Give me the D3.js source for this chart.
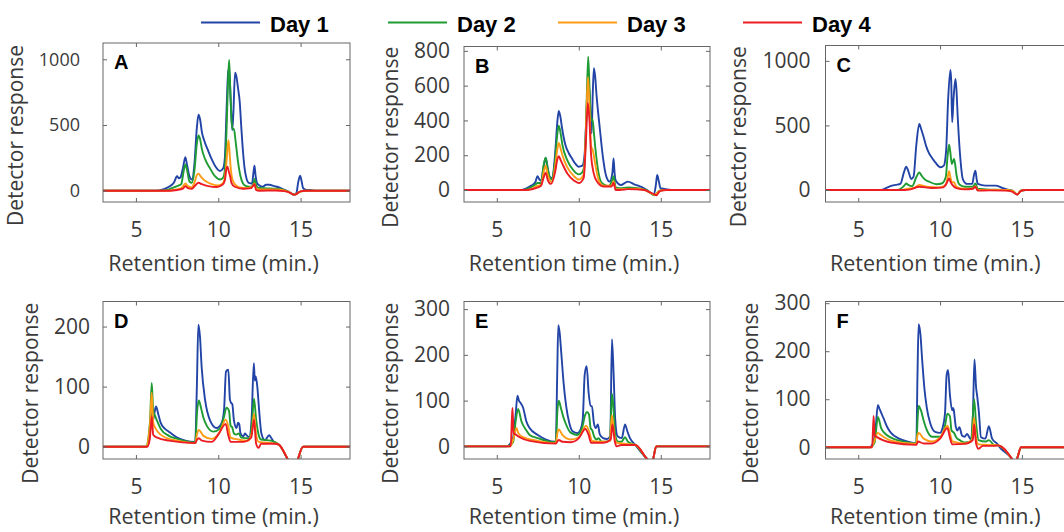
<!DOCTYPE html>
<html>
<head>
<meta charset="utf-8">
<script src="https://cdn.jsdelivr.net/npm/d3@7"></script>
<style>
	body { margin: 0; background: #fff; }
	svg text { font-family: 'Open Sans', sans-serif; fill: #3a3a3a; }
</style>
</head>
<body>
<svg id="fig" width="1064" height="532"></svg>
<script>

var seriesNames = ['Day 1', 'Day 2', 'Day 3', 'Day 4']
var seriesColors = ['#2244a6', '#1e9b32', '#ff9c16', '#ec1c24']

var xDomain = [3, 18]
var xTicks = [5, 10, 15]

// panel A
var aDay1 = [[3,0],[6.2,0],[6.6,8],[7.0,30],[7.3,60],[7.5,110],[7.6,95],[7.7,100],[7.85,170],[8.0,255],[8.1,200],[8.25,110],[8.4,85],[8.55,200],[8.7,480],[8.8,578],[8.9,540],[9.0,450],[9.15,380],[9.4,300],[9.6,240],[9.85,180],[10.1,150],[10.3,170],[10.4,250],[10.5,600],[10.6,900],[10.66,930],[10.75,700],[10.85,460],[10.92,600],[11.02,898],[11.1,870],[11.2,780],[11.3,680],[11.4,480],[11.5,300],[11.6,170],[11.7,100],[11.85,60],[12.05,55],[12.15,150],[12.2,190],[12.27,110],[12.35,60],[12.5,40],[12.7,30],[12.9,45],[13.1,45],[13.4,35],[13.7,25],[14.0,8],[14.3,-10],[14.6,-30],[14.75,-15],[14.85,60],[14.97,114],[15.05,80],[15.15,20],[15.3,8],[15.6,5],[16,0],[18,0]]
var aDay2 = [[3,0],[6.6,0],[7.0,10],[7.4,30],[7.6,40],[7.75,50],[7.9,150],[8.0,200],[8.1,160],[8.25,70],[8.4,60],[8.55,150],[8.7,360],[8.8,420],[8.9,390],[9.0,320],[9.2,240],[9.5,170],[9.8,110],[10.1,85],[10.3,100],[10.4,160],[10.5,450],[10.6,850],[10.66,995],[10.72,800],[10.8,550],[10.87,470],[10.95,470],[11.05,380],[11.2,220],[11.35,110],[11.5,55],[11.7,35],[12.0,30],[12.15,60],[12.2,90],[12.3,45],[12.45,20],[13.0,18],[13.5,15],[14.0,5],[14.3,-10],[14.6,-30],[14.8,-20],[15.0,-5],[15.3,0],[18,0]]
var aDay3 = [[3,0],[7.0,0],[7.4,8],[7.7,15],[7.9,40],[8.0,55],[8.15,35],[8.35,25],[8.55,60],[8.7,120],[8.8,130],[8.95,105],[9.2,75],[9.6,50],[10.0,40],[10.3,60],[10.45,150],[10.55,300],[10.62,385],[10.68,300],[10.75,180],[10.85,90],[11.0,50],[11.3,25],[11.8,20],[12.1,35],[12.2,55],[12.3,15],[12.5,10],[13.5,10],[14.0,3],[14.3,-10],[14.6,-30],[14.8,-20],[15.0,-5],[15.3,0],[18,0]]
var aDay4 = [[3,0],[7.0,0],[7.5,5],[7.85,15],[8.0,35],[8.15,20],[8.4,15],[8.6,40],[8.8,60],[9.0,50],[9.4,35],[9.9,28],[10.25,45],[10.4,80],[10.5,170],[10.56,183],[10.63,150],[10.72,110],[10.8,60],[11.0,30],[11.5,15],[12.0,20],[12.2,50],[12.3,5],[12.5,0],[13.5,2],[14.0,-3],[14.3,-12],[14.65,-32],[14.8,-20],[15.0,-5],[15.3,0],[18,0]]

// panel B
var bDay1 = [[3,0],[6.5,0],[6.8,10],[7.1,25],[7.35,45],[7.48,80],[7.6,60],[7.7,55],[7.85,130],[7.98,185],[8.1,130],[8.22,77],[8.38,67],[8.55,200],[8.7,400],[8.78,455],[8.88,420],[8.98,355],[9.18,260],[9.4,210],[9.58,182],[9.8,150],[9.98,134],[10.22,140],[10.35,200],[10.45,400],[10.55,620],[10.65,560],[10.72,420],[10.78,326],[10.85,550],[10.92,700],[11.0,650],[11.08,547],[11.28,355],[11.48,182],[11.68,77],[11.88,48],[12.05,100],[12.12,182],[12.18,100],[12.25,55],[12.58,29],[12.8,40],[12.98,48],[13.38,33],[13.98,10],[14.3,-10],[14.58,-25],[14.7,30],[14.78,86],[14.88,50],[14.98,10],[15.3,5],[15.8,0],[18,0]]
var bDay2 = [[3,0],[6.6,0],[7.0,12],[7.3,28],[7.5,40],[7.7,40],[7.85,140],[7.98,185],[8.1,120],[8.35,60],[8.55,170],[8.7,330],[8.78,370],[8.9,320],[9.0,260],[9.3,170],[9.7,110],[10.0,90],[10.2,100],[10.35,150],[10.45,400],[10.57,767],[10.65,600],[10.75,400],[10.84,405],[10.92,330],[11.0,250],[11.2,100],[11.4,40],[11.8,22],[12.05,60],[12.12,80],[12.25,15],[12.5,10],[13.0,15],[13.5,12],[14.0,3],[14.3,-12],[14.6,-30],[14.8,-15],[14.95,-3],[15.2,0],[18,0]]
var bDay3 = [[3,0],[6.8,0],[7.2,10],[7.5,25],[7.7,30],[7.85,100],[7.98,140],[8.1,90],[8.35,45],[8.55,130],[8.7,240],[8.78,270],[8.9,235],[9.0,200],[9.3,130],[9.7,80],[10.0,60],[10.3,90],[10.42,300],[10.56,650],[10.65,480],[10.75,250],[10.85,230],[11.0,150],[11.2,60],[11.5,25],[12.0,25],[12.12,50],[12.25,5],[12.5,5],[13.5,8],[14.0,0],[14.3,-12],[14.6,-28],[14.8,-15],[15.0,-3],[15.3,0],[18,0]]
var bDay4 = [[3,0],[6.8,0],[7.2,6],[7.5,15],[7.7,25],[7.85,70],[7.98,100],[8.1,60],[8.3,35],[8.55,100],[8.7,180],[8.78,195],[8.9,170],[9.0,150],[9.3,95],[9.7,55],[10.0,40],[10.3,70],[10.42,250],[10.55,500],[10.65,400],[10.75,200],[10.9,100],[11.1,50],[11.5,20],[12.0,20],[12.12,40],[12.25,0],[12.5,0],[13.0,5],[14.0,0],[14.3,-12],[14.6,-25],[14.75,-30],[14.9,-10],[15.1,-2],[15.3,0],[18,0]]

// panel C
var cDay1 = [[3,0],[6.4,0],[6.7,15],[7.06,34],[7.3,40],[7.57,47],[7.8,140],[7.93,181],[8.05,150],[8.24,85],[8.38,103],[8.55,350],[8.73,512],[8.85,470],[9.0,408],[9.15,340],[9.3,292],[9.5,250],[9.71,214],[10.02,176],[10.23,189],[10.37,305],[10.49,692],[10.63,930],[10.68,850],[10.74,525],[10.82,700],[10.94,860],[11.0,780],[11.08,563],[11.25,227],[11.39,85],[11.65,47],[11.96,47],[12.08,120],[12.16,150],[12.24,80],[12.31,47],[12.78,34],[13.39,34],[13.8,16],[14.2,0],[14.41,-5],[14.72,-36],[14.93,-5],[15.2,0],[18,0]]
var cDay2 = [[3,0],[7.4,0],[7.7,20],[7.85,40],[7.93,50],[8.05,40],[8.3,30],[8.55,100],[8.73,135],[8.85,115],[9.0,90],[9.4,60],[9.8,45],[10.1,50],[10.35,100],[10.45,250],[10.55,350],[10.62,300],[10.72,200],[10.85,240],[10.92,200],[11.0,120],[11.2,40],[11.5,25],[12.0,25],[12.16,50],[12.3,10],[12.8,5],[14.0,0],[14.4,-5],[14.72,-33],[14.93,-5],[15.2,0],[18,0]]
var cDay3 = [[3,0],[7.6,0],[8.0,10],[8.4,15],[8.73,40],[9.2,25],[10.0,20],[10.35,40],[10.48,110],[10.55,145],[10.63,100],[10.72,60],[10.85,60],[11.0,25],[11.5,10],[12.0,12],[12.16,30],[12.3,0],[14.0,0],[14.4,-5],[14.72,-33],[14.93,-5],[15.2,0],[18,0]]
var cDay4 = [[3,0],[7.8,0],[8.2,5],[8.73,25],[9.5,15],[10.2,20],[10.35,40],[10.5,80],[10.55,90],[10.65,60],[10.75,40],[11.0,15],[11.5,5],[12.0,10],[12.16,25],[12.3,-5],[13.0,-3],[14.0,-5],[14.4,-12],[14.72,-35],[14.93,-8],[15.2,0],[18,0]]

// panel D
var dDay1 = [[3,0],[5.6,0],[5.8,10],[5.95,55],[6.05,45],[6.15,60],[6.22,67],[6.35,55],[6.5,40],[6.75,30],[7.0,25],[7.5,15],[8.0,10],[8.6,8],[8.7,100],[8.79,203],[8.89,183],[8.99,133],[9.2,78],[9.5,44],[9.9,31],[10.2,39],[10.35,61],[10.47,125],[10.61,128],[10.71,78],[10.8,72],[10.85,71],[10.95,44],[11.11,31],[11.2,40],[11.27,38],[11.35,22],[11.52,17],[11.62,22],[11.72,19],[11.88,16],[12.02,44],[12.16,139],[12.22,110],[12.28,117],[12.38,97],[12.48,61],[12.62,22],[12.83,11],[13.09,19],[13.23,14],[13.43,6],[13.7,3],[14.2,-20],[14.65,-42],[14.85,-20],[15.15,0],[18,0]]
var dDay2 = [[3,0],[5.6,0],[5.85,40],[5.96,106],[6.05,60],[6.15,52],[6.3,42],[6.5,30],[7.0,18],[7.5,13],[8.0,9],[8.6,7],[8.72,60],[8.82,77],[8.95,65],[9.1,48],[9.3,35],[9.7,25],[10.1,30],[10.35,50],[10.5,65],[10.65,60],[10.75,35],[10.85,32],[10.95,22],[11.1,20],[11.25,22],[11.4,15],[11.9,14],[12.05,40],[12.17,80],[12.3,45],[12.45,20],[12.6,12],[13.2,10],[13.7,3],[14.2,-20],[14.65,-42],[14.85,-20],[15.15,0],[18,0]]
var dDay3 = [[3,0],[5.6,0],[5.85,35],[5.96,90],[6.05,40],[6.2,30],[6.5,20],[7.0,13],[7.5,10],[8.6,6],[8.72,22],[8.82,28],[9.1,18],[9.6,13],[10.1,25],[10.45,45],[10.6,35],[10.75,15],[11.2,12],[11.8,10],[12.05,25],[12.17,55],[12.3,20],[12.45,8],[13.5,5],[13.7,3],[14.2,-20],[14.65,-42],[14.85,-20],[15.15,0],[18,0]]
var dDay4 = [[3,0],[5.7,0],[5.85,15],[5.96,50],[6.05,20],[6.3,15],[7.0,10],[8.6,6],[8.72,12],[8.82,14],[9.0,10],[9.6,8],[10.0,20],[10.45,38],[10.6,20],[10.75,8],[11.5,8],[12.0,15],[12.17,45],[12.3,5],[12.45,-2],[12.6,5],[13.5,5],[13.7,3],[14.2,-20],[14.65,-42],[14.85,-20],[15.15,0],[18,0]]

// panel E
var eDay1 = [[3,0],[5.6,0],[5.8,5],[6.0,20],[6.15,70],[6.26,111],[6.35,100],[6.45,95],[6.6,85],[6.8,55],[7.0,40],[7.5,25],[8.0,15],[8.6,10],[8.68,150],[8.75,265],[8.83,249],[8.93,205],[9.07,140],[9.23,88],[9.42,51],[9.62,33],[9.92,29],[10.12,38],[10.24,59],[10.36,157],[10.48,175],[10.6,117],[10.72,88],[10.8,88],[10.92,51],[11.04,40],[11.16,48],[11.28,26],[11.48,18],[11.72,16],[11.92,22],[12.02,234],[12.12,161],[12.22,59],[12.36,22],[12.62,18],[12.82,48],[12.96,33],[13.12,18],[13.45,3],[14.15,-27],[14.45,-37],[14.54,-27],[14.72,0],[18,0]]
var eDay2 = [[3,0],[5.7,0],[6.0,10],[6.15,55],[6.3,82],[6.5,55],[6.8,35],[7.0,25],[7.5,18],[8.0,12],[8.6,9],[8.7,80],[8.78,100],[8.9,85],[9.05,65],[9.2,50],[9.5,30],[9.9,25],[10.2,40],[10.4,70],[10.5,75],[10.62,70],[10.72,40],[10.82,35],[10.95,20],[11.1,15],[11.2,18],[11.4,10],[11.9,12],[12.02,115],[12.12,80],[12.22,25],[12.4,10],[12.6,10],[12.82,20],[13.0,10],[13.45,3],[14.15,-27],[14.45,-37],[14.54,-27],[14.72,0],[18,0]]
var eDay3 = [[3,0],[5.8,0],[6.0,15],[6.2,40],[6.3,30],[6.6,20],[7.5,12],[8.6,7],[8.7,30],[8.78,37],[9.0,25],[9.5,15],[10.0,20],[10.45,45],[10.65,30],[10.8,12],[11.5,10],[11.9,12],[12.02,68],[12.15,30],[12.3,8],[13.0,5],[13.45,3],[14.15,-27],[14.45,-37],[14.54,-27],[14.72,0],[18,0]]
var eDay4 = [[3,0],[5.85,0],[5.92,60],[5.96,84],[6.02,30],[6.2,25],[6.4,20],[7.0,12],[8.6,6],[8.72,12],[8.78,14],[9.0,10],[9.5,9],[10.0,18],[10.4,38],[10.6,25],[10.75,8],[11.5,8],[11.95,15],[12.05,48],[12.2,10],[12.3,0],[12.6,3],[13.3,3],[13.45,3],[14.15,-27],[14.45,-37],[14.54,-27],[14.72,0],[18,0]]

// panel F
var fDay1 = [[3,0],[5.7,0],[5.9,8],[6.05,35],[6.2,88],[6.3,80],[6.4,72],[6.55,60],[6.8,40],[7.0,30],[7.5,18],[8.0,12],[8.55,8],[8.62,150],[8.69,256],[8.8,235],[8.9,185],[9.05,120],[9.2,80],[9.4,50],[9.7,32],[10.0,30],[10.15,40],[10.3,70],[10.4,150],[10.49,161],[10.6,110],[10.74,77],[10.8,82],[10.84,77],[10.95,45],[11.05,35],[11.18,42],[11.35,24],[11.5,22],[11.65,28],[11.86,17],[12.0,60],[12.1,183],[12.2,125],[12.27,106],[12.37,74],[12.5,21],[12.77,18],[12.98,44],[13.18,18],[13.49,7],[13.55,4],[14.39,-24],[14.55,-32],[14.7,-24],[14.95,0],[18,0]]
var fDay2 = [[3,0],[5.75,0],[6.0,10],[6.2,63],[6.4,40],[6.6,30],[7.0,20],[7.5,14],[8.0,10],[8.55,8],[8.63,60],[8.69,86],[8.85,75],[9.0,55],[9.2,35],[9.5,22],[10.0,22],[10.3,45],[10.45,70],[10.6,65],[10.7,35],[10.85,30],[11.0,20],[11.2,15],[11.5,10],[11.9,12],[12.08,100],[12.2,50],[12.35,15],[12.8,12],[12.98,15],[13.3,5],[13.55,4],[14.39,-24],[14.55,-32],[14.7,-24],[14.95,0],[18,0]]
var fDay3 = [[3,0],[5.8,0],[6.0,15],[6.2,30],[6.4,25],[7.0,14],[8.55,7],[8.62,25],[8.69,30],[9.0,18],[9.5,12],[10.0,20],[10.45,45],[10.6,30],[10.75,12],[11.5,8],[11.95,15],[12.08,62],[12.2,20],[12.35,6],[13.0,5],[13.55,4],[14.39,-24],[14.55,-32],[14.7,-24],[14.95,0],[18,0]]
var fDay4 = [[3,0],[5.85,0],[5.94,65],[6.0,25],[6.2,20],[6.5,15],[7.0,10],[8.55,5],[8.65,12],[9.0,8],[9.5,8],[10.0,18],[10.45,40],[10.6,20],[10.75,6],[11.5,7],[12.0,15],[12.08,48],[12.2,8],[12.35,-3],[12.6,3],[13.3,3],[13.55,4],[14.39,-24],[14.55,-32],[14.7,-24],[14.95,0],[18,0]]

var yTicksA = [0, 500, 1000]
var yTicksB = [0, 200, 400, 600, 800]
var yTicksC = [0, 500, 1000]
var yTicksD = [0, 100, 200]
var yTicksE = [0, 100, 200, 300]
var yTicksF = [0, 100, 200, 300]

var panels = [
	{ letter: 'A', series: [aDay1, aDay2, aDay3, aDay4], yDomain: [-86, 1124], yTicks: yTicksA,
		left: 103, right: 350, top: 43, bottom: 202, yFont: 18, yPad: 23, titleGap: 69 },
	{ letter: 'B', series: [bDay1, bDay2, bDay3, bDay4], yDomain: [-69, 825], yTicks: yTicksB,
		left: 464, right: 710, top: 46.5, bottom: 202, yFont: 21, yPad: 14, titleGap: 69 },
	{ letter: 'C', series: [cDay1, cDay2, cDay3, cDay4], yDomain: [-93, 1119], yTicks: yTicksC,
		left: 825.5, right: 1071, top: 45.5, bottom: 202, yFont: 21, yPad: 15, titleGap: 69 },
	{ letter: 'D', series: [dDay1, dDay2, dDay3, dDay4], yDomain: [-20.5, 241.7], yTicks: yTicksD,
		left: 103, right: 350, top: 301.5, bottom: 459, yFont: 21, yPad: 13, titleGap: 65 },
	{ letter: 'E', series: [eDay1, eDay2, eDay3, eDay4], yDomain: [-27.6, 316.6], yTicks: yTicksE,
		left: 464, right: 710, top: 301.5, bottom: 459, yFont: 21, yPad: 14, titleGap: 65 },
	{ letter: 'F', series: [fDay1, fDay2, fDay3, fDay4], yDomain: [-24.4, 303.5], yTicks: yTicksF,
		left: 825.5, right: 1071, top: 301.5, bottom: 459, yFont: 21, yPad: 15, titleGap: 65 }
]

var legendLineX = [201, 388, 558, 743]


function makePanel(svg, p) {
	var width = p.right - p.left
	var height = p.bottom - p.top

	var xScale = d3.scaleLinear()
		.domain(xDomain)
		.range([0, width])
	var yScale = d3.scaleLinear()
		.domain(p.yDomain)
		.range([height, 0])

	var g = svg.append('g')
		.attr('transform', 'translate(' + p.left + ',' + p.top + ')')

	g.append('clipPath')
		.attr('id', 'clip' + p.letter)
		.append('rect')
			.attr('width', width)
			.attr('height', height)

	var line = d3.line()
		.x(function(d) { return xScale(d[0]) })
		.y(function(d) { return yScale(d[1]) })
		.curve(d3.curveMonotoneX)

	g.append('g')
		.attr('clip-path', 'url(#clip' + p.letter + ')')
		.selectAll('path').data(p.series)
		.enter().append('path')
			.attr('d', line)
			.attr('fill', 'none')
			.attr('stroke', function(d, i) { return seriesColors[i] })
			.attr('stroke-width', 1.9)
			.attr('stroke-linejoin', 'round')

	// ticks point inwards, on all four sides like a matlab box
	var xAxis = d3.axisBottom(xScale).tickValues(xTicks).tickSizeInner(-4).tickSizeOuter(0).tickPadding(20)
	var xTop = d3.axisTop(xScale).tickValues(xTicks).tickSizeInner(-4).tickSizeOuter(0).tickFormat('')
	var yAxis = d3.axisLeft(yScale).tickValues(p.yTicks).tickSizeInner(-4).tickSizeOuter(0)
		.tickPadding(p.yPad).tickFormat(d3.format('d'))
	var yRight = d3.axisRight(yScale).tickValues(p.yTicks).tickSizeInner(-4).tickSizeOuter(0).tickFormat('')

	var gx = g.append('g')
		.attr('transform', 'translate(0,' + height + ')')
		.call(xAxis)
	g.append('g').call(xTop)
	var gy = g.append('g').call(yAxis)
	g.append('g')
		.attr('transform', 'translate(' + width + ',0)')
		.call(yRight)

	g.selectAll('.domain').remove()
	g.selectAll('.tick line').attr('stroke', '#666')
	g.selectAll('.tick text').attr('fill', '#3a3a3a')
	gx.attr('font-family', null).attr('font-size', 21)
	gy.attr('font-family', null).attr('font-size', p.yFont)

	g.append('rect')
		.attr('width', width)
		.attr('height', height)
		.attr('fill', 'none')
		.attr('stroke', '#666')
		.attr('stroke-width', 1)

	g.append('text')
		.attr('x', 11)
		.attr('y', 26)
		.style('font-family', 'Liberation Sans, Arial, sans-serif')
		.style('font-weight', 'bold')
		.style('font-size', '20px')
		.style('fill', '#000')
		.text(p.letter)

	g.append('text')
		.attr('x', width / 2 - 13)
		.attr('y', height + p.titleGap)
		.attr('text-anchor', 'middle')
		.style('font-size', '21.5px')
		.text('Retention time (min.)')

	var bb = gy.node().getBBox()
	g.append('text')
		.attr('transform', 'translate(' + (bb.x - 16) + ',' + (height / 2 + 13) + ') rotate(-90)')
		.attr('text-anchor', 'middle')
		.style('font-size', '21px')
		.text('Detector response')
}


var svg = d3.select('#fig')

panels.forEach(function(p) { makePanel(svg, p) })

var legend = svg.append('g')
legend.selectAll('line').data(seriesNames)
	.enter().append('line')
		.attr('x1', function(d, i) { return legendLineX[i] })
		.attr('x2', function(d, i) { return legendLineX[i] + 59 })
		.attr('y1', 22.5)
		.attr('y2', 22.5)
		.attr('stroke', function(d, i) { return seriesColors[i] })
		.attr('stroke-width', 1.8)
legend.selectAll('text').data(seriesNames)
	.enter().append('text')
		.attr('x', function(d, i) { return legendLineX[i] + 69 })
		.attr('y', 31.5)
		.style('font-family', 'Liberation Sans, Arial, sans-serif')
		.style('font-weight', 'bold')
		.style('font-size', '22px')
		.style('fill', '#000')
		.text(function(d) { return d })

</script>
</body>
</html>
